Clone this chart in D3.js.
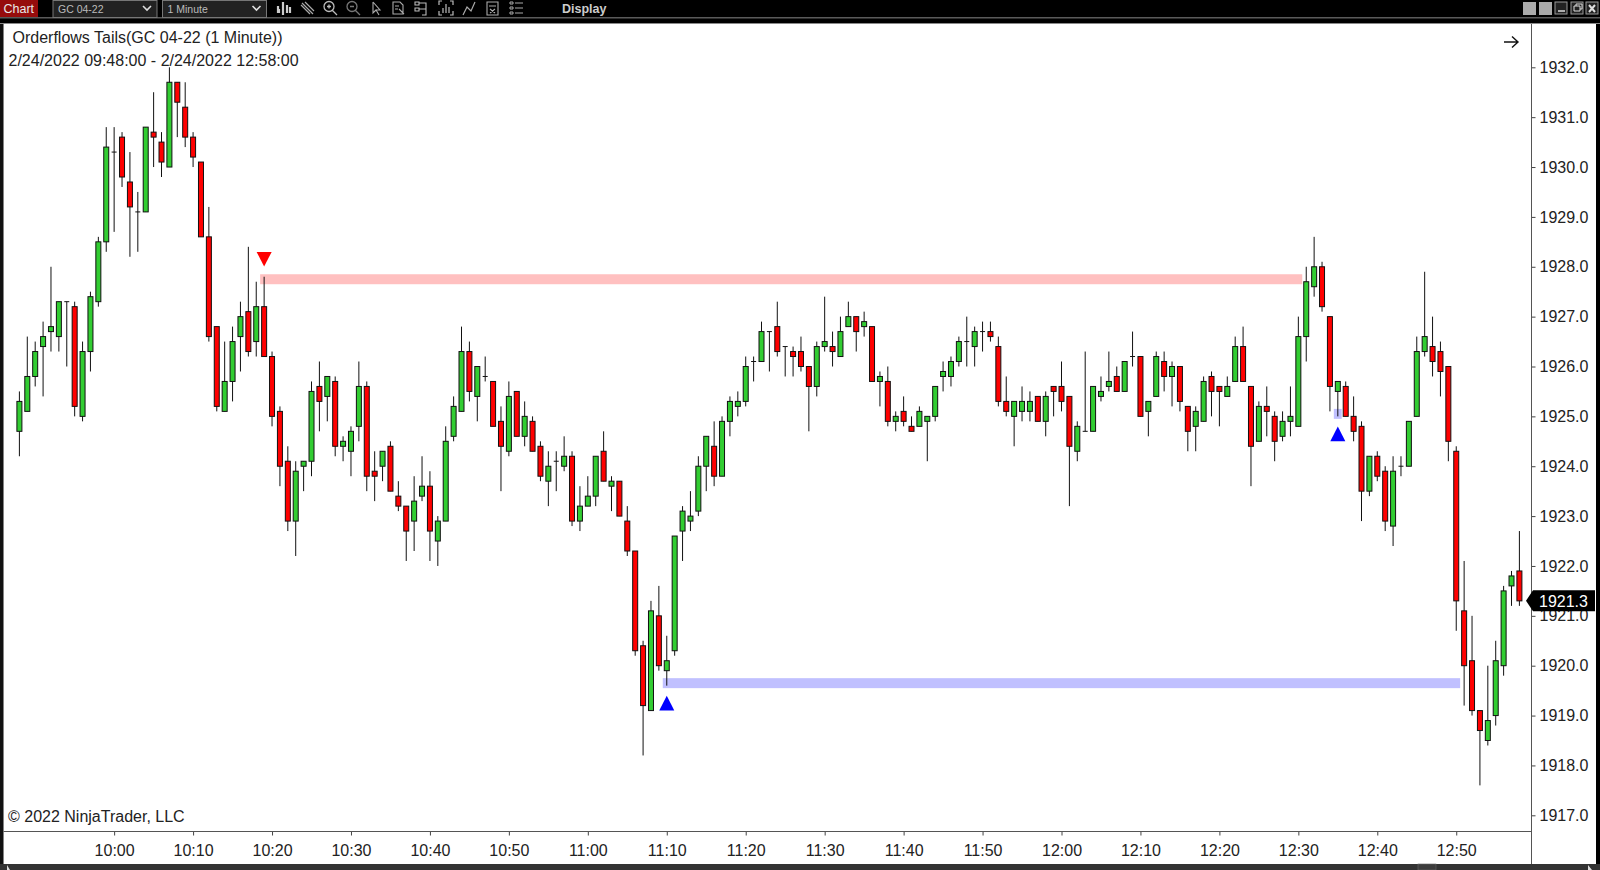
<!DOCTYPE html>
<html>
<head>
<meta charset="utf-8">
<script src="https://cdn.jsdelivr.net/npm/d3@7"></script>
<style>
html, body { margin: 0; padding: 0; background: #000; overflow: hidden; }
svg { display: block; }
text { font-family: "Liberation Sans", Arial, sans-serif; }
</style>
</head>
<body>
<div id="chart"></div>
<script>
//////////////////////////////////////////////////////////////////////////////
// Data: one bar per minute, 09:48 to 12:58

var opens = [
    1924.7,1925.1,1925.8,1926.4,1926.7,1926.6,1927.3,1927.2,1925.0,1926.3,
    1927.3,1928.5,1930.3,1930.6,1929.7,1929.1,1929.1,1930.7,1930.5,1930.0,
    1931.7,1931.2,1930.6,1930.1,1928.6,1926.8,1925.1,1925.7,1926.6,1927.1,
    1926.5,1927.2,1926.2,1925.1,1924.1,1922.9,1924.0,1924.1,1925.6,1925.4,
    1925.7,1924.4,1924.3,1924.8,1925.6,1923.9,1924.0,1924.4,1923.4,1923.2,
    1922.9,1923.4,1923.6,1922.5,1922.9,1924.6,1925.1,1926.3,1925.4,1925.8,
    1925.7,1924.9,1924.3,1925.5,1924.6,1924.9,1924.4,1923.7,1924.1,1924.0,
    1924.2,1922.9,1923.2,1923.4,1924.3,1923.6,1923.7,1922.9,1922.3,1920.4,
    1919.1,1921.0,1919.9,1920.3,1922.7,1922.9,1923.1,1924.0,1924.4,1923.8,
    1924.9,1925.2,1925.3,1926.1,1926.1,1926.7,1926.8,1926.4,1926.3,1926.3,
    1926.0,1925.6,1926.4,1926.4,1926.2,1926.8,1927.0,1926.8,1926.8,1925.7,
    1925.7,1924.9,1925.1,1924.8,1924.8,1924.9,1925.0,1925.8,1925.8,1926.1,
    1926.5,1926.4,1926.7,1926.7,1926.4,1925.3,1925.0,1925.1,1925.1,1925.4,
    1924.9,1925.6,1925.6,1925.4,1924.3,1924.7,1924.7,1925.4,1925.6,1925.8,
    1925.5,1926.2,1926.2,1925.1,1925.4,1926.1,1925.8,1926.0,1925.2,1924.8,
    1924.9,1925.8,1925.6,1925.4,1925.7,1926.4,1925.6,1924.5,1925.2,1925.0,
    1924.6,1924.9,1924.8,1926.6,1927.6,1928.0,1927.0,1925.5,1925.6,1925.0,
    1924.8,1923.5,1924.2,1923.9,1922.8,1924.0,1924.0,1925.0,1926.3,1926.4,
    1926.3,1926.0,1924.3,1921.1,1920.1,1919.1,1918.5,1919.0,1920.0,1921.6,
    1921.9
];
var highs = [
    1925.5,1926.6,1926.5,1926.9,1928.0,1927.3,1927.3,1927.3,1926.5,1927.5,
    1928.6,1930.8,1930.8,1930.7,1930.3,1929.5,1930.8,1931.5,1930.7,1932.0,
    1931.7,1931.7,1930.7,1930.1,1929.2,1926.8,1926.5,1926.8,1927.3,1928.4,
    1927.7,1927.8,1926.3,1925.2,1924.4,1924.1,1924.1,1925.7,1926.1,1925.8,
    1925.8,1924.6,1924.8,1926.1,1925.7,1924.3,1924.3,1924.5,1923.7,1923.2,
    1923.8,1924.2,1923.9,1923.0,1924.8,1925.4,1926.8,1926.5,1926.0,1926.2,
    1925.7,1925.2,1925.7,1925.5,1925.3,1925.0,1924.5,1924.3,1924.3,1924.6,
    1924.3,1923.6,1923.8,1924.2,1924.7,1923.8,1923.7,1923.2,1922.3,1920.5,
    1921.3,1921.6,1920.6,1922.6,1923.2,1923.5,1924.2,1924.6,1924.9,1925.0,
    1925.4,1925.5,1926.2,1926.2,1926.9,1926.7,1927.3,1926.4,1926.4,1926.6,
    1926.0,1926.5,1927.4,1926.7,1927.0,1927.3,1927.0,1927.1,1926.8,1925.9,
    1926.0,1925.1,1925.4,1925.0,1925.2,1925.0,1925.6,1926.1,1926.2,1926.6,
    1927.0,1926.8,1926.9,1926.9,1926.6,1925.8,1925.3,1925.6,1925.5,1925.4,
    1925.5,1925.6,1926.1,1925.4,1924.9,1926.3,1925.6,1925.8,1926.3,1926.0,
    1926.1,1926.7,1926.2,1925.3,1926.3,1926.3,1926.1,1926.0,1925.2,1925.2,
    1925.8,1925.9,1925.6,1925.8,1926.6,1926.8,1925.6,1925.3,1925.6,1925.1,
    1925.1,1925.6,1927.0,1928.0,1928.6,1928.1,1927.0,1925.7,1925.7,1925.4,
    1924.9,1924.2,1924.3,1924.0,1924.2,1924.2,1924.9,1926.6,1927.9,1927.0,
    1926.5,1926.0,1924.4,1922.1,1921.0,1919.1,1920.0,1920.5,1921.6,1921.9,
    1922.7
];
var lows = [
    1924.2,1925.1,1925.6,1925.4,1926.3,1926.3,1926.0,1925.0,1924.9,1925.9,
    1927.2,1928.3,1928.7,1929.6,1928.2,1928.3,1929.1,1930.0,1929.8,1930.0,
    1930.6,1930.4,1930.0,1928.6,1926.5,1925.1,1925.1,1925.3,1925.9,1926.2,
    1926.2,1926.2,1924.8,1923.6,1922.7,1922.2,1923.5,1923.8,1924.7,1924.9,
    1924.2,1924.1,1923.8,1924.5,1923.5,1923.3,1923.7,1923.5,1923.1,1922.1,
    1922.3,1923.3,1922.1,1922.0,1922.9,1924.5,1925.1,1925.3,1924.9,1925.7,
    1924.8,1923.5,1924.2,1924.6,1924.4,1924.3,1923.7,1923.2,1923.5,1923.9,
    1922.8,1922.7,1923.2,1923.2,1923.7,1923.1,1923.0,1922.2,1920.2,1918.2,
    1919.1,1919.9,1919.6,1920.2,1922.1,1922.7,1923.0,1923.5,1923.6,1923.8,
    1924.6,1925.0,1925.2,1925.7,1926.1,1925.9,1926.2,1925.8,1925.8,1925.9,
    1924.7,1925.4,1926.3,1926.0,1926.2,1926.8,1926.3,1926.6,1925.7,1925.2,
    1924.8,1924.7,1924.8,1924.7,1924.8,1924.1,1924.9,1925.5,1925.6,1926.0,
    1926.0,1926.0,1926.3,1926.5,1925.2,1925.0,1924.4,1924.9,1924.9,1924.9,
    1924.6,1925.0,1925.1,1923.2,1924.1,1924.7,1924.7,1925.3,1925.5,1925.5,
    1925.5,1926.0,1925.0,1924.6,1925.4,1925.5,1925.2,1925.1,1924.3,1924.3,
    1924.9,1925.0,1924.8,1925.4,1925.7,1925.7,1923.6,1924.5,1924.6,1924.1,
    1924.5,1924.6,1924.8,1926.1,1927.4,1927.1,1925.1,1925.0,1925.0,1924.5,
    1922.9,1923.4,1923.7,1922.7,1922.4,1923.8,1924.0,1925.0,1926.2,1925.8,
    1925.4,1924.1,1920.7,1919.2,1919.0,1917.6,1918.4,1918.8,1919.8,1921.2,
    1921.2
];
var closes = [
    1925.3,1925.8,1926.3,1926.6,1926.8,1927.3,1927.3,1925.2,1926.3,1927.4,
    1928.5,1930.4,1930.3,1929.8,1929.2,1929.1,1930.8,1930.6,1930.1,1931.7,
    1931.3,1930.6,1930.2,1928.6,1926.6,1925.2,1925.7,1926.5,1927.0,1926.3,
    1927.2,1926.2,1925.0,1924.0,1922.9,1923.9,1924.1,1925.5,1925.3,1925.8,
    1924.4,1924.5,1924.7,1925.6,1923.8,1923.8,1924.3,1923.5,1923.2,1922.7,
    1923.3,1923.6,1922.7,1922.9,1924.5,1925.2,1926.3,1925.5,1926.0,1925.8,
    1924.8,1924.4,1925.4,1924.6,1925.0,1924.3,1923.8,1924.0,1924.1,1924.2,
    1922.9,1923.2,1923.4,1924.2,1923.7,1923.7,1923.0,1922.3,1920.3,1919.2,
    1921.1,1920.0,1920.1,1922.6,1923.1,1923.0,1924.0,1924.6,1923.8,1924.9,
    1925.3,1925.3,1926.0,1926.1,1926.7,1926.7,1926.3,1926.4,1926.2,1926.0,
    1925.6,1926.4,1926.5,1926.3,1926.7,1927.0,1926.7,1926.9,1925.7,1925.8,
    1924.9,1925.0,1924.9,1924.7,1925.1,1925.0,1925.6,1925.9,1926.1,1926.5,
    1926.5,1926.7,1926.7,1926.6,1925.3,1925.1,1925.3,1925.3,1925.3,1924.9,
    1925.4,1925.5,1925.3,1924.4,1924.8,1924.7,1925.6,1925.5,1925.7,1925.5,
    1926.1,1926.2,1925.0,1925.3,1926.2,1925.8,1926.0,1925.3,1924.7,1925.1,
    1925.7,1925.5,1925.5,1925.6,1926.4,1925.7,1924.4,1925.2,1925.1,1924.5,
    1924.9,1925.0,1926.6,1927.7,1928.0,1927.2,1925.6,1925.7,1925.0,1924.7,
    1923.5,1924.2,1923.8,1922.9,1923.9,1924.0,1924.9,1926.3,1926.6,1926.1,
    1925.9,1924.5,1921.3,1920.0,1919.1,1918.7,1918.9,1920.1,1921.5,1921.8,
    1921.3
];

var priceTicks = [1932,1931,1930,1929,1928,1927,1926,1925,1924,1923,1922,1921,1920,1919,1918,1917];
var timeTicks = ["10:00","10:10","10:20","10:30","10:40","10:50","11:00","11:10","11:20",
                 "11:30","11:40","11:50","12:00","12:10","12:20","12:30","12:40","12:50"];
var lastPrice = 1921.3;

// signals: [bar time, price]
var downSignals = [["10:19", 1928.2]];
var upSignals = [["11:10", 1919.2], ["12:35", 1924.6]];

// tails drawn as bands: [from, until, price]
var redBands = [["10:19", "12:31", 1927.75]];
var blueBands = [["11:10", "12:51", 1919.65], ["12:35", "12:36", 1925.05]];

var toolbarLabels = ["Chart", "GC 04-22", "1 Minute", "Display"];
var titleLines = ["Orderflows Tails(GC 04-22 (1 Minute))", "2/24/2022 09:48:00 - 2/24/2022 12:58:00"];
var copyright = "\u00a9 2022 NinjaTrader, LLC";

//////////////////////////////////////////////////////////////////////////////
// Scales

var width = 1600, height = 870;
var parseTime = d3.timeParse("%H:%M");
var formatTime = d3.timeFormat("%H:%M");

var times = opens.map(function(d, i) { return d3.timeMinute.offset(parseTime("09:48"), i); });

var xScale = d3.scaleTime().domain([parseTime("09:48"), parseTime("12:58")]).range([19.4, 1519.4]);
var yScale = d3.scaleLinear().domain([1917, 1932]).range([815.3, 67.3]);

var bars = opens.map(function(d, i) {
    return { time: times[i], o: opens[i], h: highs[i], l: lows[i], c: closes[i] };
});

var svg = d3.select("#chart").append("svg").attr("width", width).attr("height", height);

//////////////////////////////////////////////////////////////////////////////
// Window frame

svg.append("rect").attr("width", width).attr("height", height).attr("fill", "#000");
svg.append("rect").attr("x", 0).attr("y", 17).attr("width", width).attr("height", 1.5).attr("fill", "#5a5a5a");
svg.append("rect").attr("x", 0).attr("y", 23).attr("width", width).attr("height", 1).attr("fill", "#8a8a8a");
svg.append("rect").attr("x", 0).attr("y", 24).attr("width", 3.5).attr("height", 840).attr("fill", "#111");
svg.append("rect").attr("x", 3.5).attr("y", 24).attr("width", 1592.5).attr("height", 840).attr("fill", "#fff");
svg.append("rect").attr("x", 0).attr("y", 864).attr("width", width).attr("height", 6).attr("fill", "#333");
svg.append("rect").attr("x", 1418).attr("y", 864).attr("width", 18).attr("height", 6).attr("fill", "#3d3d3d").attr("stroke", "#666").attr("stroke-width", 0.6);
svg.append("path").attr("d", "M7 870V865L10 870Z M1588 870V865L1592 870Z").attr("fill", "#ddd");

//////////////////////////////////////////////////////////////////////////////
// Toolbar

var toolbar = svg.append("g");

toolbar.append("rect").attr("x", 0).attr("y", 0).attr("width", 38).attr("height", 17).attr("fill", "#960c0c");
toolbar.append("text").attr("x", 3.5).attr("y", 13).attr("font-size", 12.5).attr("fill", "#e8e8e8").text(toolbarLabels[0]);

[[53, 104, toolbarLabels[1]], [162.5, 104, toolbarLabels[2]]].forEach(function(d) {
    toolbar.append("rect").attr("x", d[0]).attr("y", 0.5).attr("width", d[1]).attr("height", 17)
        .attr("fill", "#222").attr("stroke", "#777");
    toolbar.append("text").attr("x", d[0] + 5).attr("y", 13).attr("font-size", 10.5).attr("fill", "#bbb").text(d[2]);
    toolbar.append("path").attr("d", "M" + (d[0] + 90) + " 6l4 4l4 -4").attr("fill", "none")
        .attr("stroke", "#ddd").attr("stroke-width", 1.6);
});

toolbar.append("text").attr("x", 562).attr("y", 13).attr("font-size", 12.5).attr("font-weight", "bold")
    .attr("fill", "#ccc").text(toolbarLabels[3]);

// icon glyphs, each in a local box about 16 wide
var icons = [
    [277, "M2 6V13M3 13V9M7 2V15M11 5V13M14 7V13", "#ccc", 2.2],
    [300, "M3 3L14 14M6 2L15 11M2 5L11 14", "#aaa", 1.2],
    [323, "M12 6.5A5 5 0 1 0 2 6.5A5 5 0 1 0 12 6.5M5 6.5H9M7 4.5V8.5M10.5 10.5L15 15", "#bbb", 1.3],
    [346, "M12 6.5A5 5 0 1 0 2 6.5A5 5 0 1 0 12 6.5M5 6.5H9M10.5 10.5L15 15", "#777", 1.3],
    [369, "M5 2V13L8 10L11 15M8 10H12L5 2", "#aaa", 1.1],
    [392, "M2 2H9L12 5V14H2ZM4 6H8M4 9H7M8 9L13 14", "#aaa", 1.1],
    [415, "M1 2H5V5H1ZM1 8H5V11H1ZM5 3H12V15H8M5 9H12", "#bbb", 1.1],
    [439, "M1 5V1H4M12 1H15V5M1 11V15H4M12 15H15V11M5 13V8M8 13V4M11 13V7", "#bbb", 1.2],
    [462, "M2 15L6 7L10 11L14 2", "#aaa", 1.2],
    [486, "M2 2H13V15H2ZM4 6H11M5 9L10 13M10 9L5 13", "#aaa", 1.1],
    [510, "M1 2H4V4H1ZM1 7H4V9H1ZM1 12H4V14H1ZM6 3H14M6 8H14M6 13H14", "#aaa", 1]
];
toolbar.selectAll("path.icon").data(icons).enter().append("path")
    .attr("class", "icon")
    .attr("transform", function(d) { return "translate(" + (d[0] - 1) + ",0)"; })
    .attr("d", function(d) { return d[1]; })
    .attr("fill", "none")
    .attr("stroke", function(d) { return d[2]; })
    .attr("stroke-width", function(d) { return d[3]; });

// window buttons
[1523, 1539].forEach(function(x) {
    toolbar.append("rect").attr("x", x).attr("y", 2).attr("width", 13).attr("height", 13).attr("fill", "#aaa");
});
[1555, 1571, 1586].forEach(function(x) {
    toolbar.append("rect").attr("x", x).attr("y", 2).attr("width", 12).attr("height", 12)
        .attr("fill", "#222").attr("stroke", "#999");
});
toolbar.append("path").attr("d", "M1558 11H1565").attr("stroke", "#ddd").attr("stroke-width", 1.5);
toolbar.append("path").attr("d", "M1574 6H1580V11H1574ZM1576 6V4H1582V9H1580").attr("fill", "none").attr("stroke", "#ddd");
toolbar.append("path").attr("d", "M1589 5L1595 12M1595 5L1589 12").attr("stroke", "#ddd").attr("stroke-width", 2);

//////////////////////////////////////////////////////////////////////////////
// Bands under the candles

function createBands(sel, rows, color)
{
    return sel.append("g")
        .selectAll("rect")
        .data(rows)
        .enter()
        .append("rect")
        .attr("x", function(d) { return xScale(parseTime(d[0])) - 4; })
        .attr("y", function(d) { return yScale(d[2] + 0.1); })
        .attr("width", function(d) { return xScale(parseTime(d[1])) - xScale(parseTime(d[0])); })
        .attr("height", yScale(0) - yScale(0.2))
        .attr("fill", color);
}

createBands(svg, redBands, "#ffc0c0");
createBands(svg, blueBands, "#c0c0ff");

//////////////////////////////////////////////////////////////////////////////
// Candles

var barWidth = 5;
var candles = svg.append("g").selectAll("g").data(bars).enter().append("g");

candles.append("line")
    .attr("x1", function(d) { return xScale(d.time); })
    .attr("x2", function(d) { return xScale(d.time); })
    .attr("y1", function(d) { return yScale(d.h); })
    .attr("y2", function(d) { return yScale(d.l); })
    .attr("stroke", "#111")
    .attr("stroke-width", 1);

candles.filter(function(d) { return d.o !== d.c; }).append("rect")
    .attr("x", function(d) { return xScale(d.time) - barWidth / 2; })
    .attr("y", function(d) { return yScale(Math.max(d.o, d.c)); })
    .attr("width", barWidth)
    .attr("height", function(d) { return Math.abs(yScale(d.o) - yScale(d.c)); })
    .attr("fill", function(d) { return d.c > d.o ? "#32cd32" : "#ff0000"; })
    .attr("stroke", "#111")
    .attr("stroke-width", 1);

candles.filter(function(d) { return d.o === d.c; }).append("line")
    .attr("x1", function(d) { return xScale(d.time) - barWidth / 2; })
    .attr("x2", function(d) { return xScale(d.time) + barWidth / 2; })
    .attr("y1", function(d) { return yScale(d.c); })
    .attr("y2", function(d) { return yScale(d.c); })
    .attr("stroke", "#111")
    .attr("stroke-width", 1);

//////////////////////////////////////////////////////////////////////////////
// Signal triangles, stretched a little taller than equilateral

var triangle = d3.symbol().type(d3.symbolTriangle).size(98);

svg.append("g").selectAll("path").data(upSignals).enter().append("path")
    .attr("d", triangle)
    .attr("transform", function(d) { return "translate(" + xScale(parseTime(d[0])) + "," + yScale(d[1]) + ") scale(1,1.13)"; })
    .attr("fill", "#0000ff");

svg.append("g").selectAll("path").data(downSignals).enter().append("path")
    .attr("d", triangle)
    .attr("transform", function(d) { return "translate(" + xScale(parseTime(d[0])) + "," + yScale(d[1]) + ") rotate(180) scale(1,1.13)"; })
    .attr("fill", "#ff0000");

//////////////////////////////////////////////////////////////////////////////
// Axes

var yAxis = d3.axisRight(yScale)
    .tickValues(priceTicks)
    .tickSize(4)
    .tickPadding(4)
    .tickFormat(d3.format(".1f"));

var yAxisG = svg.append("g").attr("transform", "translate(1531.5,0)").call(yAxis);
yAxisG.select(".domain").remove();
yAxisG.selectAll("text").attr("font-size", 16).attr("font-family", "Liberation Sans").attr("fill", "#222");
yAxisG.selectAll("line").attr("stroke", "#444");

svg.append("line").attr("x1", 1531.5).attr("x2", 1531.5).attr("y1", 24).attr("y2", 864)
    .attr("stroke", "#555").attr("stroke-width", 1);

var xAxis = d3.axisBottom(xScale)
    .tickValues(timeTicks.map(parseTime))
    .tickSize(4)
    .tickPadding(9)
    .tickFormat(formatTime);

var xAxisG = svg.append("g").attr("transform", "translate(0,831.5)").call(xAxis);
xAxisG.select(".domain").remove();
xAxisG.selectAll("text").attr("font-size", 16).attr("font-family", "Liberation Sans").attr("fill", "#222");
xAxisG.selectAll("line").attr("stroke", "#444");

svg.append("line").attr("x1", 3.5).attr("x2", 1531.5).attr("y1", 831.5).attr("y2", 831.5)
    .attr("stroke", "#555").attr("stroke-width", 1);

//////////////////////////////////////////////////////////////////////////////
// Current price flag

var flagY = yScale(lastPrice);
svg.append("path")
    .attr("d", "M1526 " + flagY + "L1533 " + (flagY - 10.5) + "H1595V" + (flagY + 10.5) + "H1533Z")
    .attr("fill", "#000");
svg.append("text").attr("x", 1539).attr("y", flagY + 5.8).attr("font-size", 16).attr("fill", "#fff")
    .text(d3.format(".1f")(lastPrice));

//////////////////////////////////////////////////////////////////////////////
// Labels

svg.append("text").attr("x", 12.5).attr("y", 43).attr("font-size", 16).attr("fill", "#222").text(titleLines[0]);
svg.append("text").attr("x", 8.5).attr("y", 66).attr("font-size", 16).attr("fill", "#222").text(titleLines[1]);
svg.append("text").attr("x", 8).attr("y", 821.5).attr("font-size", 16).attr("fill", "#222").text(copyright);

svg.append("path").attr("d", "M1504 42H1518M1512 36.5L1518 42L1512 47.5")
    .attr("fill", "none").attr("stroke", "#111").attr("stroke-width", 1.4);
</script>
</body>
</html>
